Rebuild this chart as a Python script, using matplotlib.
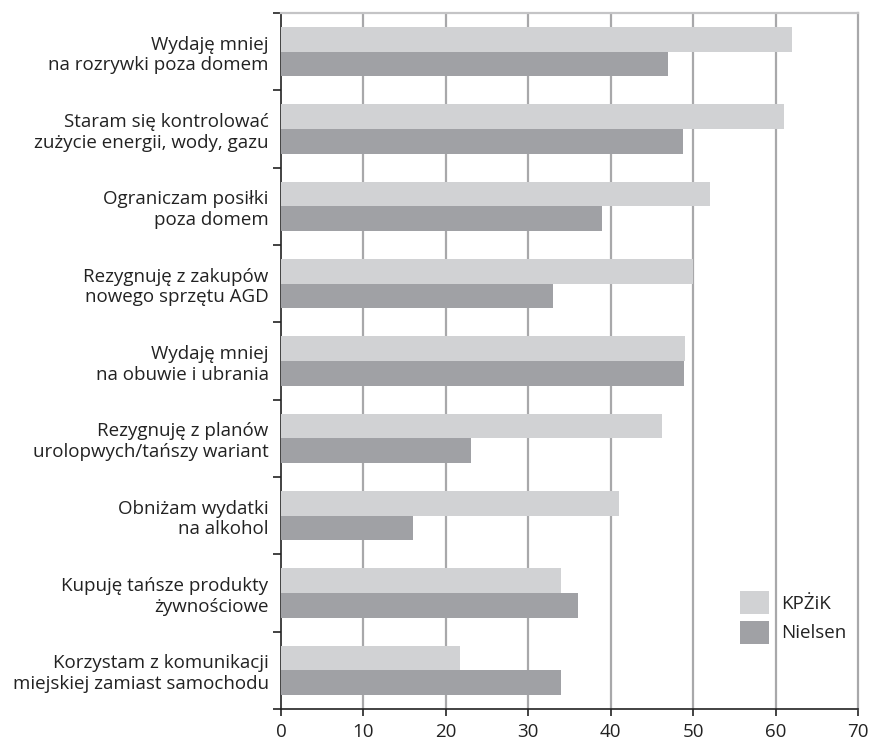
import matplotlib
matplotlib.use("Agg")
import matplotlib.pyplot as plt
from matplotlib.patches import Patch
import numpy as np

categories = [
    "Wydaję mniej\nna rozrywki poza domem",
    "Staram się kontrolować\nzużycie energii, wody, gazu",
    "Ograniczam posiłki\npoza domem",
    "Rezygnuję z zakupów\nnowego sprzętu AGD",
    "Wydaję mniej\nna obuwie i ubrania",
    "Rezygnuję z planów\nurolopwych/tańszy wariant",
    "Obniżam wydatki\nna alkohol",
    "Kupuję tańsze produkty\nżywnościowe",
    "Korzystam z komunikacji\nmiejskiej zamiast samochodu",
]
kpzik = [62, 61, 52, 50, 49, 46.2, 41, 34, 21.7]
nielsen = [47, 48.8, 39, 33, 48.9, 23, 16, 36, 34]
series_names = ["KPŻiK", "Nielsen"]
xticks = [0, 10, 20, 30, 40, 50, 60, 70]

c_light = "#d1d2d4"
c_dark = "#a0a1a5"
grid_c = "#a8a8aa"
txt_c = "#222222"
fs = 13.5

plt.rcParams["font.family"] = ["Open Sans", "DejaVu Sans"]

fig = plt.figure(figsize=(8.71, 7.44), dpi=100)
W, H = 871, 744
left, right, top, bottom = 281, 858, 13, 709
ax = fig.add_axes([left / W, 1 - bottom / H, (right - left) / W, (bottom - top) / H])

y = np.arange(len(categories))
h = 0.32
ax.barh(y - h / 2, kpzik, height=h, color=c_light, zorder=3)
ax.barh(y + h / 2, nielsen, height=h, color=c_dark, zorder=3)

ax.set_xlim(0, 70)
ax.set_ylim(len(categories) - 0.5, -0.5)

for v in xticks[1:-1]:
    ax.axvline(v, color=grid_c, lw=1.6, zorder=1)

ax.set_xticks(xticks)
ax.set_xticklabels([str(v) for v in xticks], fontsize=fs, color=txt_c)
ax.tick_params(axis="x", direction="out", length=5, width=1.2, color=txt_c, pad=5)

ax.set_yticks(y)
ax.set_yticklabels(categories, fontsize=fs, color=txt_c, linespacing=1.2)
ax.tick_params(axis="y", which="major", length=0, pad=9)
ax.set_yticks(np.arange(-0.5, len(categories) + 0.5, 1), minor=True)
ax.tick_params(axis="y", which="minor", direction="out", length=6, width=1.2, color=txt_c)

for lbl in ax.get_yticklabels():
    lbl.set_horizontalalignment("right")
    lbl.set_multialignment("right")

ax.spines["left"].set_color(txt_c)
ax.spines["left"].set_linewidth(1.2)
ax.spines["bottom"].set_color(txt_c)
ax.spines["bottom"].set_linewidth(1.2)
ax.spines["right"].set_color(grid_c)
ax.spines["right"].set_linewidth(1.6)
ax.spines["top"].set_color("#c4c4c6")
ax.spines["top"].set_linewidth(1.6)

handles = [Patch(facecolor=c_light, edgecolor="none"), Patch(facecolor=c_dark, edgecolor="none")]
leg = fig.legend(handles, series_names, loc="upper left",
                 bbox_to_anchor=(740 / W, 1 - 591 / H), frameon=False,
                 fontsize=fs, handlelength=1.55, handleheight=1.5,
                 handletextpad=0.64, labelspacing=0.37, borderaxespad=0, borderpad=0)
for t in leg.get_texts():
    t.set_color(txt_c)

fig.savefig("out.png", dpi=100)
